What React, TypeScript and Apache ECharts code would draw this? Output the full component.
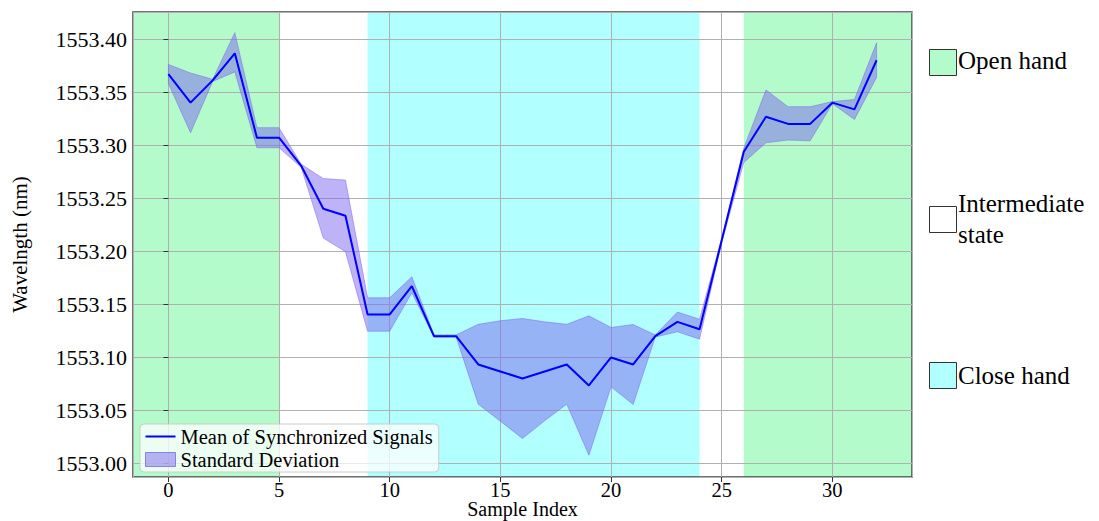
import React, { useEffect, useRef } from "react";
import * as echarts from "echarts";

const sampleIndex = [0, 1, 2, 3, 4, 5, 6, 7, 8, 9, 10, 11, 12, 13, 14, 15, 16, 17, 18, 19, 20, 21, 22, 23, 24, 25, 26, 27, 28, 29, 30, 31, 32];
const meanValues = [1553.367, 1553.34, 1553.361, 1553.3865, 1553.307, 1553.307, 1553.2805, 1553.24, 1553.2333, 1553.1403, 1553.1403, 1553.167, 1553.1198, 1553.1198, 1553.0931, 1553.0865, 1553.0799, 1553.0865, 1553.0931, 1553.0733, 1553.0997, 1553.0931, 1553.1198, 1553.1333, 1553.1264, 1553.21, 1553.2937, 1553.3267, 1553.32, 1553.32, 1553.34, 1553.3337, 1553.38];
const upperValues = [1553.376, 1553.368, 1553.362, 1553.406, 1553.3164, 1553.3164, 1553.282, 1553.2685, 1553.267, 1553.156, 1553.156, 1553.1758, 1553.121, 1553.121, 1553.131, 1553.1343, 1553.1365, 1553.1333, 1553.131, 1553.139, 1553.128, 1553.1308, 1553.121, 1553.1425, 1553.1358, 1553.212, 1553.297, 1553.352, 1553.3362, 1553.3362, 1553.341, 1553.343, 1553.3965];
const lowerValues = [1553.358, 1553.3116, 1553.36, 1553.369, 1553.2975, 1553.2975, 1553.279, 1553.2123, 1553.1994, 1553.1245, 1553.1245, 1553.1607, 1553.119, 1553.119, 1553.0557, 1553.0396, 1553.0233, 1553.04, 1553.0557, 1553.0075, 1553.072, 1553.0554, 1553.119, 1553.1239, 1553.117, 1553.208, 1553.2836, 1553.3022, 1553.3047, 1553.304, 1553.339, 1553.3242, 1553.3638];

const X_MIN = -1.6;
const X_MAX = 33.6;
const Y_MIN = 1552.987;
const Y_MAX = 1553.4255;

const openSpans = [[X_MIN, 5], [26, X_MAX]];
const closeSpans = [[9, 24]];

const phaseNames = ["Open hand", "Intermediate\nstate", "Close hand"];

const OPEN_COLOR = "#b3fbca";
const CLOSE_COLOR = "#b1ffff";
const INTER_COLOR = "#ffffff";
const BAND_COLOR = "rgba(123,104,238,0.5)";
const FONT = "'Liberation Serif', 'Times New Roman', serif";

export default function App() {
  const ref = useRef<HTMLDivElement>(null);
  useEffect(() => {
    document.body.style.margin = "0";
    if (!ref.current) return;
    const chart = echarts.init(ref.current, null, { renderer: "svg" });
    const meanData = sampleIndex.map((x, i) => [x, meanValues[i]]);

    const areas: any[] = [];
    openSpans.forEach((s) => areas.push([{ xAxis: s[0], itemStyle: { color: OPEN_COLOR } }, { xAxis: s[1] }]));
    closeSpans.forEach((s) => areas.push([{ xAxis: s[0], itemStyle: { color: CLOSE_COLOR } }, { xAxis: s[1] }]));

    const legendColors = [OPEN_COLOR, INTER_COLOR, CLOSE_COLOR];
    const legendY = [49, 206, 362];
    const textShift = [-2, 0, 0];
    const graphics: any[] = [];
    phaseNames.forEach((n, i) => {
      graphics.push({
        type: "rect",
        shape: { x: 929.5, y: legendY[i] + 0.5, width: 27, height: 26 },
        style: { fill: legendColors[i], stroke: "#333", lineWidth: 1 },
      });
      graphics.push({
        type: "text",
        x: 958,
        y: legendY[i] + 13 + textShift[i],
        style: {
          text: n,
          font: `25px ${FONT}`,
          fill: "#000",
          verticalAlign: "middle",
          align: "left",
          lineHeight: 31,
        },
      });
    });

    const axisCommon = {
      z: 2,
      axisLine: { show: false },
      axisTick: { show: true, inside: false, length: 5, lineStyle: { color: "#333", width: 1 } },
      splitLine: { show: true, lineStyle: { color: "#b0b0b0", width: 1 } },
    };

    chart.setOption({
      animation: false,
      textStyle: { fontFamily: FONT },
      grid: {
        left: 133,
        right: 187,
        top: 12,
        bottom: 44,
        containLabel: false,
        outerBoundsMode: "none",
        show: true,
        z: 2,
        backgroundColor: "transparent",
        borderColor: "#444",
        borderWidth: 1.5,
      },
      xAxis: {
        type: "value",
        min: X_MIN,
        max: X_MAX,
        minInterval: 5,
        maxInterval: 5,
        ...axisCommon,
        axisLabel: {
          color: "#000",
          fontSize: 20.5,
          fontFamily: FONT,
          margin: 3,
          lineHeight: 19,
          showMinLabel: false,
          showMaxLabel: false,
        },
        name: "Sample Index",
        nameLocation: "middle",
        nameGap: 23,
        nameMoveOverlap: false,
        nameTextStyle: { color: "#000", fontSize: 20, fontFamily: FONT, lineHeight: 18 },
      },
      yAxis: {
        type: "value",
        min: Y_MIN,
        max: Y_MAX,
        minInterval: 0.05,
        maxInterval: 0.05,
        ...axisCommon,
        axisLabel: {
          color: "#000",
          fontSize: 22,
          fontFamily: FONT,
          margin: 6,
          showMinLabel: false,
          showMaxLabel: false,
          formatter: (v: number) => v.toFixed(2),
        },
        name: "Wavelngth (nm)",
        nameLocation: "middle",
        nameGap: 103,
        nameMoveOverlap: false,
        nameTextStyle: { color: "#000", fontSize: 21, fontFamily: FONT },
      },
      legend: {
        orient: "vertical",
        left: 140,
        top: 424,
        backgroundColor: "rgba(255,255,255,0.75)",
        borderColor: "#cccccc",
        borderWidth: 1,
        borderRadius: 4,
        padding: [2, 6, 2, 5],
        itemGap: 2,
        itemWidth: 30,
        itemHeight: 14,
        symbolKeepAspect: true,
        textStyle: { color: "#000", fontSize: 20.5, fontFamily: FONT, lineHeight: 20 },
        data: [
          {
            name: "Mean of Synchronized Signals",
            icon: "path://M0,0 H30 V2 H0 Z",
            itemStyle: { color: "#0000ff", borderWidth: 0 },
          },
          {
            name: "Standard Deviation",
            icon: "rect",
            itemStyle: { color: BAND_COLOR, borderColor: "rgba(90,70,230,0.6)", borderWidth: 1 },
          },
        ],
      },
      graphic: graphics,
      series: [
        {
          name: "phases",
          type: "line",
          data: [],
          z: 1,
          silent: true,
          markArea: { silent: true, z: 1, data: areas },
        },
        {
          name: "Standard Deviation",
          type: "custom",
          z: 3,
          silent: true,
          itemStyle: { color: BAND_COLOR },
          data: [[sampleIndex[0], meanValues[0]]],
          renderItem: (params: any, api: any) => {
            if (params.dataIndex !== 0) return null;
            const pts: number[][] = [];
            for (let i = 0; i < sampleIndex.length; i++) pts.push(api.coord([sampleIndex[i], upperValues[i]]));
            for (let i = sampleIndex.length - 1; i >= 0; i--) pts.push(api.coord([sampleIndex[i], lowerValues[i]]));
            return {
              type: "polygon",
              shape: { points: pts },
              style: { fill: BAND_COLOR, stroke: BAND_COLOR, lineWidth: 1 },
            };
          },
        },
        {
          name: "Mean of Synchronized Signals",
          type: "line",
          data: meanData,
          symbol: "none",
          z: 4,
          itemStyle: { color: "#0000ff" },
          lineStyle: { color: "#0000ff", width: 2 },
        },
      ],
    });
    return () => chart.dispose();
  }, []);
  return <div ref={ref} style={{ width: 1099, height: 521 }} />;
}
